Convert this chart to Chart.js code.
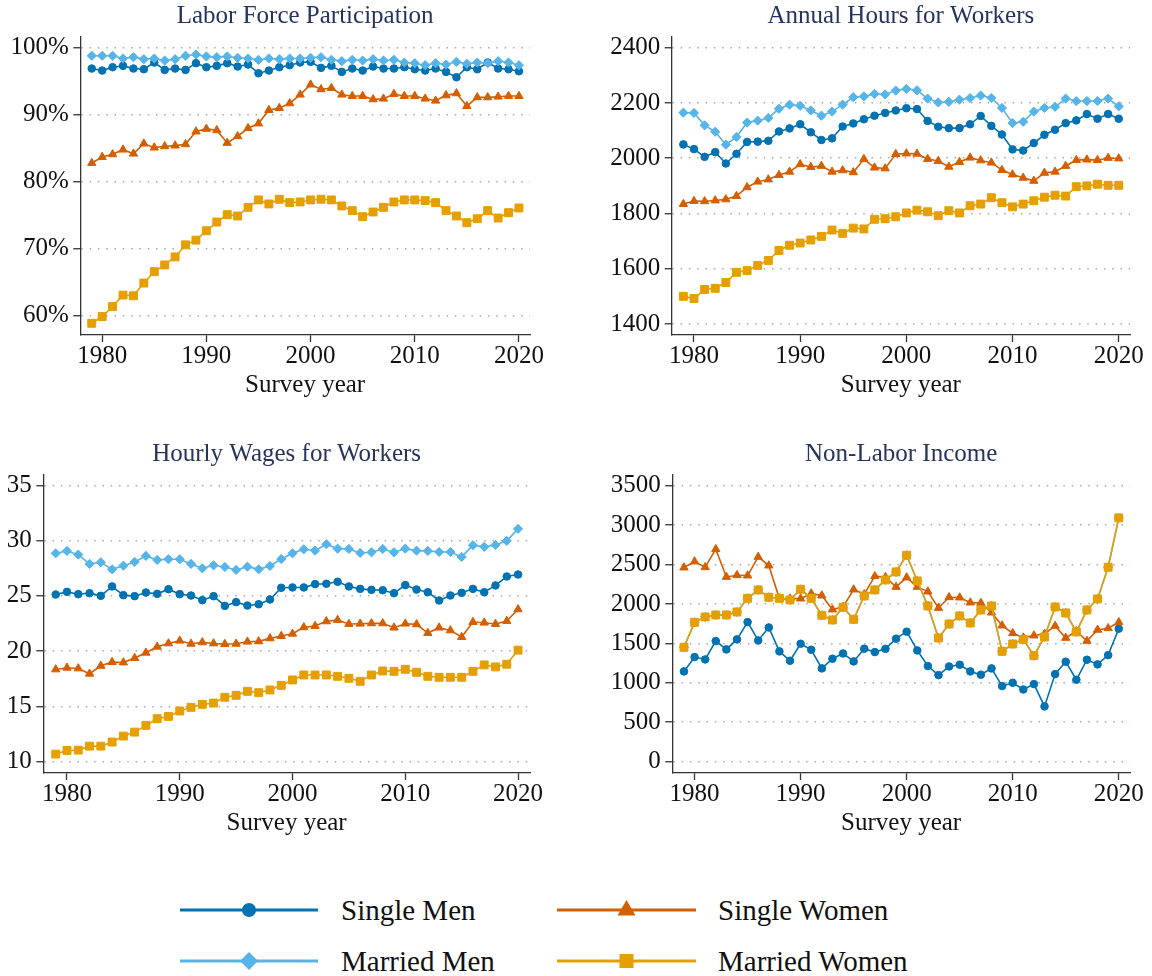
<!DOCTYPE html>
<html>
<head>
<meta charset="utf-8">
<script src="https://cdn.jsdelivr.net/npm/chart.js@4.4.1/dist/chart.umd.min.js"></script>
<style>
  body { margin: 0; background: #fff; width: 1152px; height: 976px; position: relative; overflow: hidden;
         font-family: "Liberation Serif", "Times New Roman", serif; }
  canvas { position: absolute; }
  .key { position: absolute; font-size: 29px; line-height: 34px; color: #111; white-space: nowrap; }
  #keys { position: absolute; left: 0; top: 870px; }
</style>
</head>
<body>
<canvas id="lfp" width="560" height="400" style="left:0;top:0"></canvas>
<canvas id="hours" width="576" height="400" style="left:576px;top:0"></canvas>
<canvas id="wages" width="560" height="400" style="left:0;top:438px"></canvas>
<canvas id="nli" width="576" height="400" style="left:576px;top:438px"></canvas>

<svg id="keys" width="1152" height="106"></svg>
<div class="key" style="left:341px;top:893px">Single Men</div>
<div class="key" style="left:718px;top:893px">Single Women</div>
<div class="key" style="left:341px;top:944px">Married Men</div>
<div class="key" style="left:718px;top:944px">Married Women</div>

<script>
// survey years
const years = [1979, 1980, 1981, 1982, 1983, 1984, 1985, 1986, 1987, 1988,
               1989, 1990, 1991, 1992, 1993, 1994, 1995, 1996, 1997, 1998,
               1999, 2000, 2001, 2002, 2003, 2004, 2005, 2006, 2007, 2008,
               2009, 2010, 2011, 2012, 2013, 2014, 2015, 2016, 2017, 2018,
               2019, 2020];
const xTicks = [1980, 1990, 2000, 2010, 2020];

// Labor force participation (%)
const lfpSingleMen = [96.9, 96.6, 97.1, 97.3, 96.9, 96.8, 97.8, 96.7, 96.9, 96.7,
                      97.7, 97.1, 97.3, 97.7, 97.2, 97.5, 96.2, 96.6, 97.1, 97.4,
                      97.8, 97.9, 97.0, 97.3, 96.4, 96.9, 96.6, 97.2, 96.9, 96.9,
                      97.1, 96.8, 96.6, 96.9, 96.4, 95.6, 97.1, 96.8, 97.8, 96.9,
                      96.8, 96.5];
const lfpMarriedMen = [98.8, 98.8, 98.8, 98.4, 98.6, 98.3, 98.4, 98.1, 98.3, 98.8,
                       99.0, 98.7, 98.6, 98.7, 98.5, 98.4, 98.2, 98.4, 98.3, 98.4,
                       98.4, 98.5, 98.6, 98.2, 98.0, 98.2, 98.1, 98.3, 98.1, 98.2,
                       97.8, 97.7, 97.4, 97.7, 97.5, 97.9, 97.6, 97.8, 97.7, 98.0,
                       97.8, 97.4];
const lfpSingleWomen = [82.8, 83.7, 84.1, 84.8, 84.2, 85.7, 85.1, 85.3, 85.4, 85.6,
                        87.5, 87.9, 87.7, 85.8, 86.8, 88.0, 88.7, 90.7, 91.0, 91.7,
                        93.0, 94.5, 93.8, 94.0, 93.0, 92.8, 92.8, 92.3, 92.4, 93.1,
                        92.8, 92.8, 92.4, 92.1, 92.9, 93.2, 91.3, 92.6, 92.6, 92.7,
                        92.8, 92.8];
const lfpMarriedWomen = [58.9, 59.9, 61.4, 63.1, 63.0, 64.9, 66.6, 67.6, 68.8, 70.6,
                         71.3, 72.7, 74.0, 75.1, 74.9, 76.2, 77.3, 76.7, 77.4, 76.9,
                         77.0, 77.3, 77.4, 77.3, 76.4, 75.7, 74.8, 75.5, 76.2, 77.0,
                         77.3, 77.3, 77.2, 76.9, 75.7, 74.9, 73.9, 74.5, 75.7, 74.6,
                         75.4, 76.1];
const lfpTicks = [60, 70, 80, 90, 100];

// Annual hours for workers
const hrsSingleMen = [2050, 2033, 2005, 2022, 1981, 2016, 2059, 2060, 2063, 2097,
                      2108, 2123, 2094, 2066, 2072, 2115, 2126, 2141, 2154, 2164,
                      2173, 2181, 2178, 2135, 2114, 2109, 2109, 2123, 2153, 2117,
                      2086, 2032, 2028, 2055, 2085, 2103, 2127, 2137, 2160, 2143,
                      2160, 2143];
const hrsMarriedMen = [2165, 2164, 2119, 2096, 2049, 2077, 2129, 2136, 2146, 2179,
                       2194, 2190, 2173, 2154, 2169, 2194, 2221, 2224, 2233, 2231,
                       2245, 2251, 2246, 2216, 2202, 2204, 2212, 2218, 2227, 2218,
                       2182, 2127, 2132, 2169, 2182, 2186, 2216, 2207, 2207, 2207,
                       2216, 2188];
const hrsSingleWomen = [1834, 1845, 1844, 1847, 1851, 1863, 1895, 1915, 1923, 1939,
                        1951, 1978, 1968, 1972, 1951, 1956, 1949, 1997, 1966, 1963,
                        2015, 2017, 2016, 1997, 1990, 1969, 1986, 2002, 1992, 1984,
                        1957, 1941, 1929, 1918, 1947, 1951, 1972, 1993, 1995, 1993,
                        2001, 1999];
const hrsMarriedWomen = [1500, 1492, 1525, 1529, 1550, 1587, 1593, 1612, 1630, 1666,
                         1685, 1693, 1704, 1717, 1740, 1728, 1747, 1744, 1779, 1781,
                         1788, 1802, 1812, 1806, 1792, 1810, 1802, 1828, 1834, 1857,
                         1839, 1824, 1834, 1846, 1859, 1866, 1863, 1897, 1900, 1906,
                         1902, 1902];
const hrsTicks = [1400, 1600, 1800, 2000, 2200, 2400];

// Hourly wages for workers
const wageSingleMen = [25.12, 25.36, 25.15, 25.24, 25.00, 25.85, 25.06, 24.97, 25.30, 25.18,
                       25.60, 25.15, 25.03, 24.61, 24.97, 24.09, 24.43, 24.12, 24.24, 24.67,
                       25.73, 25.76, 25.76, 26.06, 26.09, 26.27, 25.85, 25.63, 25.54, 25.51,
                       25.24, 25.97, 25.57, 25.33, 24.58, 25.03, 25.27, 25.63, 25.33, 25.94,
                       26.75, 26.93];
const wageMarriedMen = [28.85, 29.06, 28.73, 27.89, 28.04, 27.40, 27.73, 28.07, 28.61, 28.25,
                        28.31, 28.31, 27.89, 27.49, 27.76, 27.61, 27.34, 27.64, 27.40, 27.70,
                        28.33, 28.85, 29.21, 29.09, 29.67, 29.27, 29.24, 28.88, 28.94, 29.24,
                        28.94, 29.27, 29.09, 29.06, 28.97, 28.97, 28.52, 29.58, 29.43, 29.61,
                        29.97, 31.06];
const wageSingleWomen = [18.34, 18.49, 18.43, 17.95, 18.67, 19.00, 18.97, 19.37, 19.85, 20.39,
                         20.69, 20.94, 20.66, 20.79, 20.69, 20.63, 20.66, 20.85, 20.88, 21.15,
                         21.36, 21.57, 22.15, 22.27, 22.69, 22.81, 22.45, 22.48, 22.51, 22.51,
                         22.12, 22.48, 22.42, 21.63, 22.12, 21.87, 21.27, 22.63, 22.57, 22.45,
                         22.72, 23.78];
const wageMarriedWomen = [10.68, 11.01, 11.04, 11.40, 11.40, 11.77, 12.31, 12.67, 13.28, 13.88,
                          14.09, 14.58, 14.91, 15.18, 15.30, 15.82, 16.00, 16.36, 16.24, 16.48,
                          16.90, 17.39, 17.84, 17.84, 17.84, 17.72, 17.54, 17.27, 17.84, 18.20,
                          18.17, 18.35, 18.08, 17.72, 17.63, 17.63, 17.63, 18.17, 18.75, 18.57,
                          18.81, 20.09];
const wageTicks = [10, 15, 20, 25, 30, 35];

// Non-labor income
const nliSingleMen = [1144, 1326, 1296, 1529, 1423, 1550, 1770, 1537, 1702, 1398,
                      1279, 1495, 1419, 1182, 1305, 1372, 1271, 1432, 1389, 1430,
                      1559, 1648, 1410, 1212, 1097, 1207, 1229, 1144, 1102, 1182,
                      958, 1000, 915, 983, 700, 1110, 1267, 1038, 1292, 1233,
                      1351, 1686];
const nliSingleWomen = [2462, 2538, 2466, 2695, 2343, 2365, 2360, 2597, 2487, 2068,
                        2068, 2068, 2132, 2106, 1929, 1963, 2183, 2123, 2352, 2340,
                        2216, 2335, 2216, 2157, 1949, 2085, 2081, 2017, 2013, 1890,
                        1726, 1628, 1573, 1599, 1620, 1721, 1569, 1654, 1531, 1671,
                        1692, 1768];
const nliMarriedWomen = [1450, 1767, 1835, 1860, 1860, 1898, 2072, 2178, 2085, 2072,
                         2051, 2186, 2072, 1856, 1797, 1958, 1805, 2102, 2178, 2305,
                         2406, 2618, 2292, 1975, 1568, 1746, 1848, 1759, 1924, 1975,
                         1399, 1492, 1551, 1344, 1581, 1962, 1886, 1645, 1924, 2064,
                         2466, 3092];
// household income: married men sit under the married women markers
const nliMarriedMen = nliMarriedWomen;
const nliTicks = [0, 500, 1000, 1500, 2000, 2500, 3000, 3500];

const groups = [
  { label: 'Single Men',    color: '#0072B2', style: 'circle',   r: 3.8, order: 4 },
  { label: 'Single Women',  color: '#D55E00', style: 'triangle', r: 4.8, order: 3 },
  { label: 'Married Men',   color: '#56B4E9', style: 'rectRot',  r: 4.6, order: 2 },
  { label: 'Married Women', color: '#E69F00', style: 'rect',     r: 5.6, order: 1 }
];

const serif = '"Liberation Serif", "Times New Roman", serif';

function panel(id, title, series, yMin, yMax, yTicks, fmt, axisLeft, padRight) {
  const datasets = groups.map((g, k) => ({
    label: g.label,
    data: years.map((yr, i) => ({ x: yr, y: series[k][i] })),
    borderColor: g.color,
    backgroundColor: g.color,
    borderWidth: 1.6,
    pointStyle: g.style,
    pointRadius: g.r,
    pointBorderWidth: 1,
    pointBackgroundColor: g.color,
    tension: 0,
    order: g.order
  }));

  return new Chart(document.getElementById(id), {
    type: 'line',
    data: { datasets: datasets },
    options: {
      responsive: false,
      animation: false,
      events: [],
      layout: { padding: { left: 0, right: padRight, top: 0, bottom: 0 } },
      plugins: {
        legend: { display: false },
        tooltip: { enabled: false },
        title: {
          display: true,
          text: title,
          fullSize: false,
          color: '#26345c',
          font: { family: serif, size: 25, weight: 'normal', lineHeight: 1.2 },
          padding: { top: 1, bottom: 5.7 }
        }
      },
      scales: {
        x: {
          type: 'linear',
          min: 1977.9,
          max: 2021.06,
          afterBuildTicks: s => { s.ticks = xTicks.map(v => ({ value: v })); },
          afterFit: s => { s.height = 65; },
          ticks: { color: '#111', padding: 1.5, maxRotation: 0, callback: v => String(v),
                   font: { family: serif, size: 25, lineHeight: 1 } },
          grid: { drawOnChartArea: false, drawTicks: true, tickLength: 7,
                  tickColor: '#333', tickWidth: 1.3 },
          border: { display: true, color: '#333', width: 1.3 },
          title: { display: true, text: 'Survey year', color: '#111',
                   font: { family: serif, size: 25, lineHeight: 1.2 },
                   padding: { top: 0, bottom: 0 } }
        },
        y: {
          type: 'linear',
          min: yMin,
          max: yMax,
          afterBuildTicks: s => { s.ticks = yTicks.map(v => ({ value: v })); },
          afterFit: s => { s.width = axisLeft; },
          ticks: { color: '#111', padding: 4.5, callback: fmt,
                   font: { family: serif, size: 25, lineHeight: 1 } },
          grid: { color: '#a8a8a8', lineWidth: 1.5,
                  drawTicks: true, tickLength: 7, tickColor: '#333', tickWidth: 1.3,
                  tickBorderDash: [] },
          // in v4 the dash of the grid lines lives on the border options
          border: { display: true, color: '#333', width: 1.3, dash: [1.5, 6.8] }
        }
      }
    }
  });
}

panel('lfp', 'Labor Force Participation',
      [lfpSingleMen, lfpSingleWomen, lfpMarriedMen, lfpMarriedWomen],
      57.15, 101.65, lfpTicks, v => v + '%', 80.3, 30);
panel('hours', 'Annual Hours for Workers',
      [hrsSingleMen, hrsSingleWomen, hrsMarriedMen, hrsMarriedWomen],
      1360, 2440, hrsTicks, v => String(v), 95.7, 22);
panel('wages', 'Hourly Wages for Workers',
      [wageSingleMen, wageSingleWomen, wageMarriedMen, wageMarriedWomen],
      8.97, 35.96, wageTicks, v => String(v), 43.3, 30);
panel('nli', 'Non-Labor Income',
      [nliSingleMen, nliSingleWomen, nliMarriedMen, nliMarriedWomen],
      -145, 3640, nliTicks, v => String(v), 96.3, 22);

// legend keys (lines + markers), text is HTML
(function () {
  const svg = document.getElementById('keys');
  const top = 870;
  const keys = [
    { g: groups[0], x1: 180, x2: 318, y: 910 },
    { g: groups[1], x1: 557, x2: 696, y: 910 },
    { g: groups[2], x1: 180, x2: 318, y: 961 },
    { g: groups[3], x1: 557, x2: 696, y: 961 }
  ];
  let html = '';
  keys.forEach(k => {
    const y = k.y - top;
    const cx = (k.x1 + k.x2) / 2;
    const c = k.g.color;
    html += `<line x1="${k.x1}" y1="${y}" x2="${k.x2}" y2="${y}" stroke="${c}" stroke-width="3"/>`;
    if (k.g.style === 'circle') {
      html += `<circle cx="${cx}" cy="${y}" r="7" fill="${c}"/>`;
    } else if (k.g.style === 'triangle') {
      html += `<polygon points="${cx},${y - 10} ${cx + 9},${y + 5.5} ${cx - 9},${y + 5.5}" fill="${c}"/>`;
    } else if (k.g.style === 'rectRot') {
      html += `<polygon points="${cx},${y - 9} ${cx + 9},${y} ${cx},${y + 9} ${cx - 9},${y}" fill="${c}"/>`;
    } else {
      html += `<rect x="${cx - 7}" y="${y - 7}" width="14" height="14" fill="${c}"/>`;
    }
  });
  svg.innerHTML = html;
})();
</script>
</body>
</html>
